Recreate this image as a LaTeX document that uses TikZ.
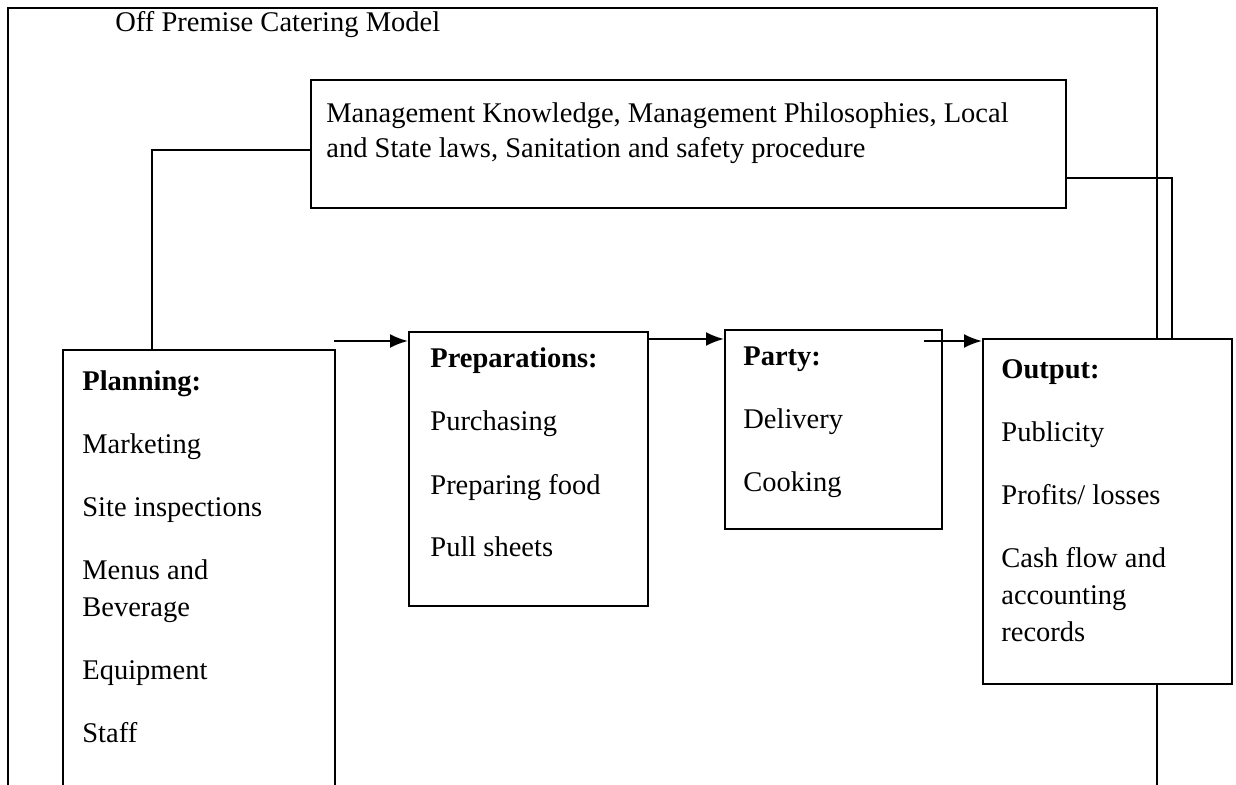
\documentclass[tikz,border=0pt]{standalone}
\usepackage{fontspec}
\setmainfont{Liberation Serif}
\usetikzlibrary{arrows.meta}

\begin{document}
\begin{tikzpicture}[x=0.5pt,y=-0.5pt]
	\tikzset{box/.style = {shape=rectangle, draw, line width=1.1pt, fill=white, anchor=north west, inner sep=0pt}}
	\tikzset{txt/.style = {anchor=base west, inner sep=0pt, align=left, font=\fontsize{14.25}{18.5}\selectfont}}
	\tikzset{edge/.style = {-{Latex[length=9pt,width=7pt]}, line width=1.1pt}}
	\tikzset{link/.style = {line width=1.1pt}}
	\clip (0,0) rectangle (1236,785);
	% frame
	\draw[line width=1.3pt] (8,830) -- (8,8) -- (1157,8) -- (1157,830);
	\node[txt] (title) at (115,32) {Off Premise Catering Model};
	% boxes
	\node[box, minimum width=377.5pt, minimum height=64pt] (mgmt) at (310,79) {};
	\node[box, minimum width=136pt, minimum height=240.5pt] (plan) at (62,349) {};
	\node[box, minimum width=119.5pt, minimum height=137pt] (prep) at (408,331) {};
	\node[box, minimum width=108.5pt, minimum height=99.5pt] (party) at (724,329) {};
	\node[box, minimum width=124.5pt, minimum height=172.5pt] (out) at (982,338) {};
	% texts (base = last line)
	\node[txt, font=\fontsize{14.25}{17.5}\selectfont] (mgmttext) at ([shift={(16,79)}]mgmt.north west)
		{Management Knowledge, Management Philosophies, Local\\and State laws, Sanitation and safety procedure};
	\node[txt] (plantext) at ([shift={(20,393)}]plan.north west)
		{\textbf{Planning:}\\[13pt]Marketing\\[13pt]Site inspections\\[13pt]Menus and\\Beverage\\[13pt]Equipment\\[13pt]Staff};
	\node[txt] (preptext) at ([shift={(22,226)}]prep.north west)
		{\textbf{Preparations:}\\[13pt]Purchasing\\[13pt]Preparing food\\[13pt]Pull sheets};
	\node[txt] (partytext) at ([shift={(19,163)}]party.north west)
		{\textbf{Party:}\\[13pt]Delivery\\[13pt]Cooking};
	\node[txt] (outtext) at ([shift={(19,303)}]out.north west)
		{\textbf{Output:}\\[13pt]Publicity\\[13pt]Profits/ losses\\[13pt]Cash flow and\\accounting\\records};
	% links
	\coordinate (c1) at (152,150);
	\draw[link] (mgmt.west |- c1) -- (c1) -- (c1 |- plan.north);
	\coordinate (c2) at (1172,178);
	\draw[link] (mgmt.east |- c2) -- (c2) -- (c2 |- out.north);
	% arrows
	\coordinate (a1) at (334,341);
	\draw[edge] (a1) -- (a1 -| prep.west);
	\coordinate (a2) at (0,339);
	\draw[edge] (prep.east |- a2) -- (party.west |- a2);
	\coordinate (a3) at (924,341);
	\draw[edge] (a3) -- (a3 -| out.west);
\end{tikzpicture}
\end{document}
